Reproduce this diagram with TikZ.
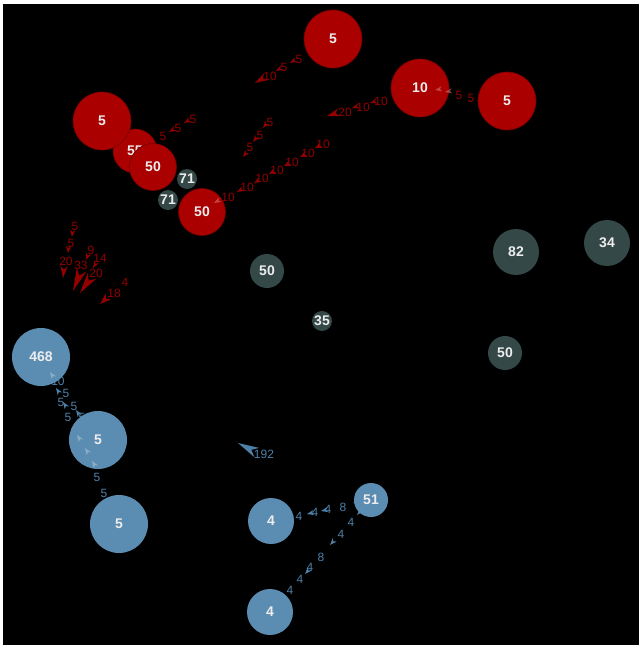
\documentclass[tikz,border=0pt]{standalone}
\usepackage{fontspec}
\setsansfont{Liberation Sans}
\renewcommand{\familydefault}{\sfdefault}

\definecolor{nodered}{HTML}{AA0000}
\definecolor{nodegray}{HTML}{344848}
\definecolor{nodeblue}{HTML}{5B8CB1}
\definecolor{linkred}{HTML}{920000}
\definecolor{linkblue}{HTML}{4E80A8}

\tikzset{
  vtx/.style={circle, inner sep=0pt, text=white!93!black, font=\bfseries\fontsize{14}{14}\selectfont},
  redvtx/.style={vtx, fill=nodered, draw=nodered!70!black, line width=0.6pt},
  grayvtx/.style={vtx, fill=nodegray},
  bluevtx/.style={vtx, fill=nodeblue},
  redlbl/.style={text=linkred, font=\fontsize{12}{12}\selectfont, inner sep=0pt},
  bluelbl/.style={text=linkblue, font=\fontsize{12}{12}\selectfont, inner sep=0pt},
  headmark/.pic={\fill (0,0) -- (-7,2.6) -- (-5,0) -- (-7,-2.6) -- cycle;}
}

\begin{document}
\begin{tikzpicture}[x=1pt, y=-1pt]
    \useasboundingbox (0,0) rectangle (642,647);
    \fill[white] (0,0) rectangle (642,647);
    \fill[black] (3,4) rectangle (639,645);

    % link labels
    \foreach \x/\y/\t [count=\i] in {299/59/5, 284/67/5, 270/76/10,
        381/101/10, 363/107/10, 345/112/20, 459/95/5, 471/98/5,
        270/122/5, 260/135/5, 250/147/5,
        323/144/10, 308/153/10, 292/162/10, 277/170/10, 262/178/10, 247/187/10, 228/197/10,
        193/119/5, 178/128/5, 163/136/5,
        75/226/5, 71/243/5, 66/261/20, 91/250/9, 100/258/14, 81/265/33, 96/273/20,
        125/282/4, 114/293/18}
        \node[redlbl] (rl\i) at (\x,\y) {\t};

    \foreach \x/\y/\t [count=\i] in {58/381/10, 66/393/5, 61/402/5, 74/406/5, 68/417/5, 82/417/5,
        97/477/5, 104/493/5, 264/454/192,
        299/516/4, 315/512/4, 328/509/4, 343/507/8,
        351/522/4, 341/534/4, 321/557/8, 310/567/4, 300/579/4, 290/590/4}
        \node[bluelbl] (bl\i) at (\x,\y) {\t};

    % arrow heads
    \foreach \x/\y/\a in {290/63/210, 276/71/210, 370/103/197, 352/108/197,
        263/128/232, 253/142/232, 243/157/232,
        315/148/209, 300/157/209, 284/166/209, 269/174/209, 254/183/209, 237/192/209,
        184/123/210, 169/132/210,
        72/237/265, 68/253/265, 86/260/250, 93/268/240}
        \pic[linkred, rotate=\a] at (\x,\y) {headmark};
    \pic[linkred, rotate=210, xscale=1.8, yscale=1.5] at (255,83) {headmark};
    \pic[linkred, rotate=197, xscale=1.8, yscale=1.5] at (327,116) {headmark};
    \pic[linkred, rotate=265, xscale=1.7, yscale=1.4] at (63,278) {headmark};
    \pic[linkred, rotate=248, xscale=3.3, yscale=2] at (73,291) {headmark};
    \pic[linkred, rotate=235, xscale=3, yscale=2] at (80,293) {headmark};
    \pic[linkred, rotate=222, xscale=1.6, yscale=1.5] at (100,304) {headmark};

    \foreach \x/\y/\a in {56/388/124, 63/402/124, 76/410/124,
        307/514/192, 321/511/192, 353/503/192,
        357/515/228, 330/545/228, 305/574/228}
        \pic[linkblue, rotate=\a] at (\x,\y) {headmark};
    \pic[linkblue, rotate=153, xscale=3, yscale=2] at (238,443) {headmark};

    % red nodes
    \node[redvtx, minimum size=58pt] (top5) at (333,39) {5};
    \node[redvtx, minimum size=58pt] (ten) at (420,88) {10};
    \node[redvtx, minimum size=58pt] (right5) at (507,101) {5};
    \node[redvtx, minimum size=44pt] (n55) at (135,151) {55};
    \node[redvtx, minimum size=58pt] (left5) at (102,121) {5};
    \node[redvtx, minimum size=47pt] (mid50) at (153,167) {50};
    \node[redvtx, minimum size=47pt] (low50) at (202,212) {50};

    % gray nodes
    \node[grayvtx, minimum size=20pt] (a71) at (187,179) {71};
    \node[grayvtx, minimum size=20pt] (b71) at (168,200) {71};
    \node[grayvtx, minimum size=46pt] (g82) at (516,252) {82};
    \node[grayvtx, minimum size=46pt] (g34) at (607,243) {34};
    \node[grayvtx, minimum size=34pt] (g50r) at (505,353) {50};
    \node[grayvtx, minimum size=34pt] (g50) at (267,271) {50};
    \node[grayvtx, minimum size=20pt] (g35) at (322,321) {35};

    % blue nodes
    \node[bluevtx, minimum size=58pt] (b468) at (41,357) {468};
    \node[bluevtx, minimum size=58pt] (b5a) at (98,440) {5};
    \node[bluevtx, minimum size=58pt] (b5b) at (119,524) {5};
    \node[bluevtx, minimum size=46pt] (b4a) at (271,521) {4};
    \node[bluevtx, minimum size=46pt] (b4b) at (270,612) {4};
    \node[bluevtx, minimum size=34pt] (b51) at (371,500) {51};

    % faint heads over the nodes
    \foreach \x/\y/\a in {435/90/190, 445/92/190, 214/203/209}
        \pic[nodered!55!white, opacity=0.6, rotate=\a] at (\x,\y) {headmark};
    \foreach \x/\y/\a in {50/372/124, 77/435/124, 85/448/124, 92/461/124}
        \pic[nodeblue!50!white, opacity=0.6, rotate=\a] at (\x,\y) {headmark};
\end{tikzpicture}
\end{document}
